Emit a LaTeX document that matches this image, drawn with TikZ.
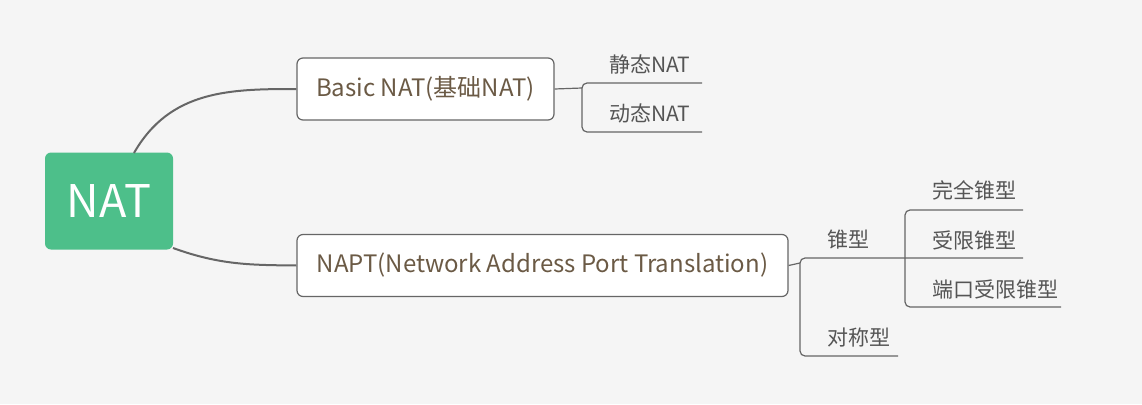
\documentclass[tikz,border=0pt]{standalone}
\usepackage{fontspec}
\setmainfont{Noto Sans CJK SC}
\usetikzlibrary{positioning}
\definecolor{bgc}{HTML}{F5F5F5}
\definecolor{natgreen}{HTML}{4DBF8A}
\definecolor{linec}{HTML}{666666}
\definecolor{topic}{HTML}{6B5A45}
\definecolor{leaftext}{HTML}{555555}
\tikzset{
  topicbox/.style={draw=linec, line width=1.2pt, fill=white, rounded corners=6pt,
       text=topic, font=\fontsize{24}{24}\selectfont, minimum height=62pt, inner xsep=16pt},
  leaf/.style={text=leaftext, font=\fontsize{21}{21}\selectfont, inner sep=0pt, anchor=west},
  link/.style={linec, line width=1.2pt, rounded corners=5pt},
}
\begin{document}
\begin{tikzpicture}[x=1pt,y=-1pt]
\fill[bgc] (0,0) rectangle (1142,404);
\useasboundingbox (0,0) rectangle (1142,404);

\node[fill=natgreen, rounded corners=6pt, text=white, font=\fontsize{45}{45}\selectfont,
      minimum width=128pt, minimum height=97pt] (nat) at (109,201) {NAT};
\node[topicbox, minimum width=257pt] (basic) at (425.5,89) {Basic NAT(基础NAT)};
\node[topicbox, minimum width=491pt] (napt) at (542.5,265.5) {NAPT(Network Address Port Translation)};

\draw[linec, line width=2pt] (134,153) .. controls (170,90) and (230,89) .. (basic.west);
\draw[linec, line width=2pt] (173,248) .. controls (220,265) and (250,265) .. (napt.west);

% first branch
\node[leaf] (jing) at (609,64) {静态NAT};
\node[leaf] (dong) at (609,113) {动态NAT};
\coordinate (fork1) at (582,88);
\draw[linec, line width=1.2pt] (basic.east) -- (fork1);
\draw[link] (fork1) |- (702,83);
\draw[link] (fork1) |- (702,132);

% second branch
\node[leaf] (cone) at (827,240) {锥型};
\node[leaf] (sym) at (827,338) {对称型};
\coordinate (fork2) at (800,263);
\draw[linec, line width=1.2pt] (napt.east) -- (fork2);
\draw[link] (fork2) |- (1023,258);
\draw[link] (fork2) |- (898,356);

\node[leaf] (full) at (932,190) {完全锥型};
\node[leaf] (restr) at (932,240) {受限锥型};
\node[leaf] (port) at (932,289) {端口受限锥型};
\coordinate (fork3) at (905,258);
\draw[link] (fork3) |- (1023,210);
\draw[link] (fork3) |- (1061,307);
\end{tikzpicture}
\end{document}
